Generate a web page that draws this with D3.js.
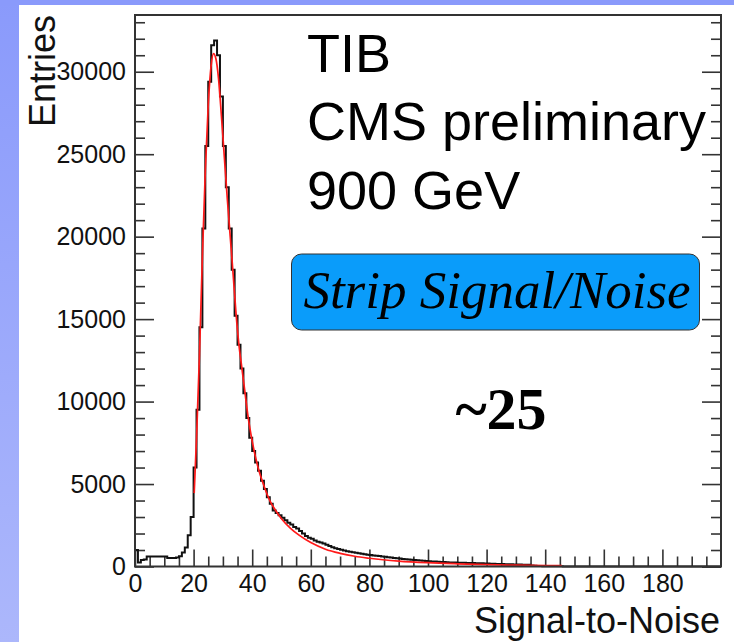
<!DOCTYPE html>
<html>
<head>
<meta charset="utf-8">
<script src="https://cdn.jsdelivr.net/npm/d3@7"></script>
<style>
  html, body { margin: 0; padding: 0; background: #ffffff; }
  svg { display: block; }
  .tick text { font-family: "Liberation Sans", Arial, sans-serif; font-size: 25px; fill: #111; }
  .tick line { stroke: #333; stroke-width: 1.6px; }
  .domain { display: none; }
</style>
</head>
<body>
<div id="chart"></div>
<script>

// ---------------------------//
//       DATA                 //
// ---------------------------//

// entries per bin, bin i covers [i, i+1) in signal-to-noise
var counts = [
  1000, 250, 400, 420, 600, 600, 600, 600, 600, 600,
  600, 520, 520, 520, 540, 620, 850, 1150, 1900, 3000,
  6000, 9500, 14500, 20500, 25500, 29400, 31600, 31900, 31000, 28500,
  25500, 23000, 20500, 18000, 15200, 13440, 12000, 10500, 9000, 7800,
  7000, 6300, 5800, 5200, 4700, 4200, 3800, 3400, 3250, 3100,
  2950, 2800, 2650, 2550, 2400, 2300, 2150, 2000, 1850, 1750,
  1680, 1580, 1500, 1450, 1400, 1320, 1250, 1160, 1110, 1060,
  1010, 970, 930, 900, 870, 840, 810, 780, 750, 720,
  690, 670, 650, 630, 610, 590, 560, 540, 520, 500,
  480, 460, 445, 430, 415, 400, 385, 370, 355, 340,
  325, 310, 300, 290, 280, 270, 260, 250, 240, 235,
  230, 225, 220, 215, 210, 205, 200, 195, 190, 185,
  180, 170, 160, 150, 150, 145, 140, 135, 130, 125,
  120, 115, 110, 105, 100, 60, 40, 30, 25, 20,
  18, 15, 12, 10, 10, 8, 6, 5, 5, 4,
  0, 0, 0, 0, 0, 0, 0, 0, 0, 0,
  0, 0, 0, 0, 0, 0, 0, 0, 0, 0,
  0, 0, 0, 0, 0, 0, 0, 0, 0, 0,
  0, 0, 0, 0, 0, 0, 0, 0, 0, 0,
  0, 0, 0, 0, 0, 0, 0, 0, 0, 0
];

// fit curve: signal-to-noise and entries
var fitX = [20.2, 21, 22, 23, 24, 25, 26, 26.8, 27.6, 28.5, 29.5, 30.5, 31.5, 32.5,
            33.5, 34.5, 35.5, 36.5, 37.5, 38.5, 40, 42, 44, 46, 48, 50, 53, 56,
            60, 65, 70, 75, 80, 90, 100, 110, 120, 130, 145.7];
var fitY = [4450, 7800, 12800, 18800, 24000, 28000, 30400, 31100, 30800, 29600, 27300, 24800, 22300, 20000,
            17700, 15300, 13400, 12000, 10600, 9200, 7600, 6000, 4900, 4000, 3400, 2900, 2330, 1900,
            1450, 1050, 800, 620, 500, 330, 230, 165, 115, 80, 50];

var xMajor = [0, 20, 40, 60, 80, 100, 120, 140, 160, 180];
var yMajor = [0, 5000, 10000, 15000, 20000, 25000, 30000];

var textLines = ["TIB", "CMS preliminary", "900 GeV"];
var boxLabel = "Strip Signal/Noise";
var peakLabel = "~25";

// ---------------------------//
//       CANVAS               //
// ---------------------------//

var W = 734, H = 642;
var plotLeft = 135, plotRight = 721, plotTop = 15, plotBottom = 566.5;

var svg = d3.select("#chart").append("svg")
    .attr("width", W)
    .attr("height", H);

var grad = svg.append("defs").append("linearGradient")
    .attr("id", "strip")
    .attr("x1", 0).attr("y1", 0).attr("x2", 0).attr("y2", 1);
grad.append("stop").attr("offset", "0%").attr("stop-color", "#8a9afb");
grad.append("stop").attr("offset", "100%").attr("stop-color", "#acb7fb");

svg.append("rect").attr("x", 0).attr("y", 0).attr("width", W).attr("height", H).attr("fill", "url(#strip)");
svg.append("rect").attr("x", 0).attr("y", 0).attr("width", W).attr("height", 5).attr("fill", "#8a9afb");
svg.append("rect").attr("x", 19).attr("y", 5).attr("width", W - 19).attr("height", H - 5).attr("fill", "#ffffff");

// ---------------------------//
//       AXIS  AND SCALE      //
// ---------------------------//

var x = d3.scaleLinear()
    .domain([0, 200])
    .range([plotLeft, plotRight]);

var y = d3.scaleLinear()
    .domain([0, 33440])
    .range([plotBottom, plotTop]);

var xMinor = d3.range(0, 200, 5).filter(function(d) { return d % 20 != 0; });
var yMinor = d3.range(0, 33001, 1000).filter(function(d) { return d % 5000 != 0; });

// left axis, ticks inside
svg.append("g")
    .attr("transform", "translate(" + plotLeft + ",0)")
    .call(d3.axisLeft(y).tickValues(yMajor).tickSize(-19).tickPadding(9).tickFormat(d3.format("d")));
svg.append("g")
    .attr("transform", "translate(" + plotLeft + ",0)")
    .call(d3.axisLeft(y).tickValues(yMinor).tickSize(-10).tickFormat(""));

// right axis, mirrored ticks
svg.append("g")
    .attr("transform", "translate(" + plotRight + ",0)")
    .call(d3.axisRight(y).tickValues(yMajor).tickSize(-19).tickFormat(""));
svg.append("g")
    .attr("transform", "translate(" + plotRight + ",0)")
    .call(d3.axisRight(y).tickValues(yMinor).tickSize(-10).tickFormat(""));

// bottom axis
svg.append("g")
    .attr("transform", "translate(0," + plotBottom + ")")
    .call(d3.axisBottom(x).tickValues(xMajor).tickSize(-17).tickPadding(8));
svg.append("g")
    .attr("transform", "translate(0," + plotBottom + ")")
    .call(d3.axisBottom(x).tickValues(xMinor).tickSize(-10).tickFormat(""));

// ---------------------------//
//       HISTOGRAM AND FIT    //
// ---------------------------//

var steps = counts.map(function(d, i) { return [i, d]; });
steps.push([counts.length, counts[counts.length - 1]]);

var stepLine = d3.line()
    .x(function(d) { return x(d[0]); })
    .y(function(d) { return y(d[1]); })
    .curve(d3.curveStepAfter);

svg.append("path")
    .datum(steps)
    .attr("d", stepLine)
    .attr("fill", "none")
    .attr("stroke", "#111")
    .attr("stroke-width", 2);

var fitLine = d3.line()
    .x(function(d, i) { return x(fitX[i]); })
    .y(function(d) { return y(d); })
    .curve(d3.curveMonotoneX);

svg.append("path")
    .datum(fitY)
    .attr("d", fitLine)
    .attr("fill", "none")
    .attr("stroke", "#ff1a1a")
    .attr("stroke-width", 1.7);

// frame
svg.append("rect")
    .attr("x", plotLeft).attr("y", plotTop)
    .attr("width", plotRight - plotLeft).attr("height", plotBottom - plotTop)
    .attr("fill", "none")
    .attr("stroke", "#333")
    .attr("stroke-width", 2);

// ---------------------------//
//       LABELS               //
// ---------------------------//

svg.append("text")
    .attr("transform", "translate(55,15) rotate(-90)")
    .attr("text-anchor", "end")
    .style("font-family", "'Liberation Sans', Arial, sans-serif")
    .style("font-size", "36px")
    .attr("fill", "#111")
    .text("Entries");

svg.append("text")
    .attr("x", 720)
    .attr("y", 633)
    .attr("text-anchor", "end")
    .style("font-family", "'Liberation Sans', Arial, sans-serif")
    .style("font-size", "36px")
    .attr("fill", "#111")
    .text("Signal-to-Noise");

svg.selectAll("text.info")
    .data(textLines)
    .enter()
    .append("text")
    .attr("class", "info")
    .attr("x", 307)
    .attr("y", function(d, i) { return 71.5 + i * 68.5; })
    .style("font-family", "'Liberation Sans', Arial, sans-serif")
    .style("font-size", "54px")
    .attr("fill", "#000")
    .text(function(d) { return d; });

svg.append("rect")
    .attr("x", 291.5).attr("y", 254)
    .attr("width", 408).attr("height", 76)
    .attr("rx", 10).attr("ry", 10)
    .attr("fill", "#0a9cfa")
    .attr("stroke", "#333")
    .attr("stroke-width", 1);

svg.append("text")
    .attr("x", 497)
    .attr("y", 308)
    .attr("text-anchor", "middle")
    .style("font-family", "'Liberation Serif', 'Times New Roman', serif")
    .style("font-style", "italic")
    .style("font-size", "53px")
    .attr("fill", "#000")
    .text(boxLabel);

svg.append("text")
    .attr("x", 501)
    .attr("y", 429)
    .attr("text-anchor", "middle")
    .style("font-family", "'Liberation Serif', 'Times New Roman', serif")
    .style("font-weight", "bold")
    .style("font-size", "60px")
    .attr("fill", "#000")
    .text(peakLabel);

</script>
</body>
</html>
